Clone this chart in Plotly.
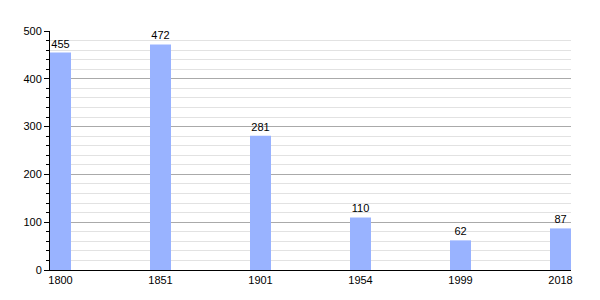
import plotly.graph_objects as go

years = ["1800", "1851", "1901", "1954", "1999", "2018"]
population = [455, 472, 281, 110, 62, 87]

xpos = list(range(len(years)))

fig = go.Figure(go.Bar(
    x=xpos, y=population, width=0.21,
    marker=dict(color="#99b3ff", line=dict(width=0)),
    text=[str(v) for v in population], textposition="outside",
    textfont=dict(family="Liberation Sans, Arial", size=11, color="black"),
    cliponaxis=False,
))

fig.update_layout(
    width=600, height=300,
    margin=dict(l=50, r=29, t=31, b=30),
    plot_bgcolor="white", paper_bgcolor="white",
    showlegend=False,
    font=dict(family="Liberation Sans, Arial", size=11, color="black"),
    xaxis=dict(
        tickmode="array", tickvals=xpos, ticktext=years,
        range=[-0.105, 5.105], showgrid=False, zeroline=False,
        showline=True, linecolor="black", linewidth=1, ticks="", ticklen=0,
        tickfont=dict(size=11),
    ),
    yaxis=dict(
        range=[0, 500], tickmode="linear", dtick=100, tick0=0,
        showgrid=True, gridcolor="#aaaaaa", gridwidth=1,
        zeroline=False, showline=True, linecolor="black", linewidth=1,
        ticks="outside", ticklen=5, tickcolor="black",
        minor=dict(dtick=20, showgrid=True, gridcolor="#e2e2e2", ticks="outside", ticklen=3, tickcolor="black"),
        tickfont=dict(size=11),
    ),
)

fig.write_html("out.html")
